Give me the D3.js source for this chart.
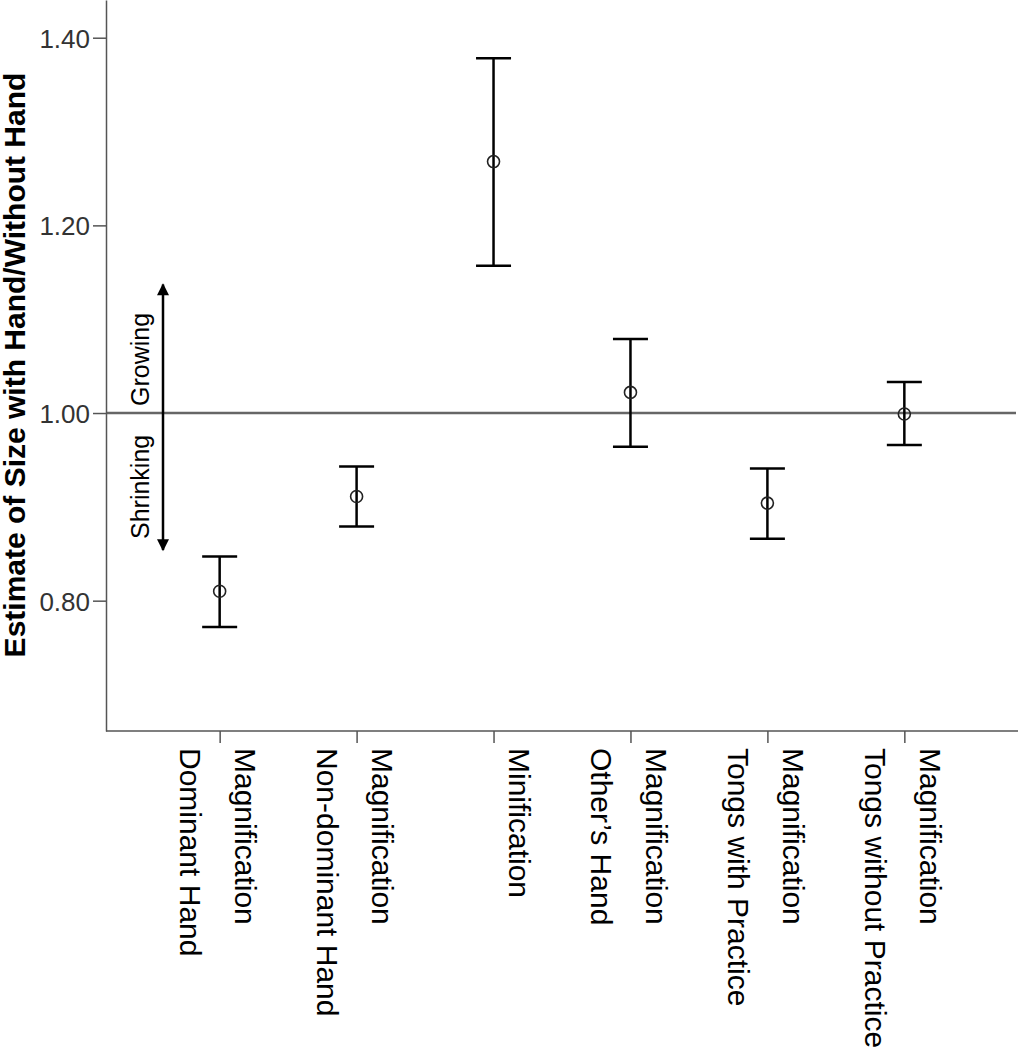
<!DOCTYPE html>
<html>
<head>
<meta charset="utf-8">
<script src="https://cdn.jsdelivr.net/npm/d3@7"></script>
<style>
  body { margin: 0; background: #fff; }
  svg { display: block; font-family: "Liberation Sans", Arial, sans-serif; }
</style>
</head>
<body>
<svg id="chart"></svg>
<script>
// conditions, two label lines each (line 1 is nearest the tick)
const labelLine1 = ['Magnification', 'Magnification', 'Minification', 'Magnification', 'Magnification', 'Magnification'];
const labelLine2 = ['Dominant Hand', 'Non-dominant Hand', '', 'Other\u2019s Hand', 'Tongs with Practice', 'Tongs without Practice'];
const means = [0.810, 0.911, 1.268, 1.022, 0.904, 0.999];
const upper = [0.847, 0.943, 1.378, 1.079, 0.941, 1.033];
const lower = [0.772, 0.879, 1.157, 0.964, 0.866, 0.966];
const yTicks = [0.80, 1.00, 1.20, 1.40];
const refValue = 1.00;
const arrowTop = 1.137, arrowBottom = 0.854;

const width = 1018, height = 1050;
const axisX = 106, axisBottom = 731;

const svg = d3.select('#chart')
    .attr('width', width)
    .attr('height', height);

const x = d3.scalePoint()
    .domain(d3.range(means.length))
    .range([axisX, 1018])
    .padding(0.83);

const y = d3.scaleLinear()
    .domain([0.6611, 1.4402])
    .range([axisBottom, 0]);

// reference line at 1.00
svg.append('line')
    .attr('x1', axisX).attr('x2', 1016)
    .attr('y1', y(refValue)).attr('y2', y(refValue))
    .attr('stroke', '#666').attr('stroke-width', 2.5);

// y axis
const yAxis = svg.append('g')
    .attr('transform', `translate(${axisX},0)`)
    .call(d3.axisLeft(y).tickValues(yTicks).tickFormat(d3.format('.2f')).tickSize(13).tickSizeOuter(0));
yAxis.select('.domain').attr('stroke', '#555').attr('stroke-width', 1.5);
yAxis.selectAll('.tick line').attr('stroke', '#555').attr('stroke-width', 1.5);
yAxis.selectAll('.tick text')
    .attr('x', -16)
    .attr('dy', '0.36em')
    .attr('fill', '#333')
    .style('font-size', '26px')
    .style('font-family', '"Liberation Sans", Arial, sans-serif');

// x axis
const xAxis = svg.append('g')
    .attr('transform', `translate(0,${axisBottom})`)
    .call(d3.axisBottom(x).tickSize(12).tickSizeOuter(0).tickFormat(''));
xAxis.select('.domain').attr('d', `M${axisX},0H${width}`).attr('stroke', '#555').attr('stroke-width', 1.5);
xAxis.selectAll('.tick line').attr('stroke', '#555').attr('stroke-width', 1.5);

// category labels, rotated to read downward
const labels = svg.append('g')
    .selectAll('text')
    .data(means.map((m, i) => i))
    .join('text')
    .attr('transform', i => `translate(${x(i)},748) rotate(90)`)
    .style('font-size', '30px')
    .attr('fill', '#000');
labels.append('tspan')
    .attr('x', 0).attr('y', -15.5)
    .text(i => labelLine1[i]);
labels.append('tspan')
    .attr('x', 0).attr('y', 39.5)
    .text(i => labelLine2[i]);

// y axis title
svg.append('text')
    .attr('transform', `translate(25,365) rotate(-90)`)
    .attr('text-anchor', 'middle')
    .style('font-size', '30px')
    .style('font-weight', 'bold')
    .text('Estimate of Size with Hand/Without Hand');

// growing / shrinking arrow
svg.append('defs').append('marker')
    .attr('id', 'tri')
    .attr('viewBox', '0 0 10 10')
    .attr('refX', 9).attr('refY', 5)
    .attr('markerUnits', 'userSpaceOnUse')
    .attr('markerWidth', 14).attr('markerHeight', 12)
    .attr('orient', 'auto-start-reverse')
    .append('path')
    .attr('d', 'M0,0L10,5L0,10Z')
    .attr('fill', '#000');

svg.append('line')
    .attr('x1', 163).attr('x2', 163)
    .attr('y1', y(arrowTop)).attr('y2', y(arrowBottom))
    .attr('stroke', '#000').attr('stroke-width', 2.5)
    .attr('marker-start', 'url(#tri)')
    .attr('marker-end', 'url(#tri)');

svg.append('text')
    .attr('transform', `translate(148.5,406) rotate(-90)`)
    .style('font-size', '25px')
    .text('Growing');
svg.append('text')
    .attr('transform', `translate(148.5,539) rotate(-90)`)
    .style('font-size', '25px')
    .text('Shrinking');

// error bars
const bars = svg.append('g')
    .selectAll('g')
    .data(means.map((m, i) => i))
    .join('g')
    .attr('stroke', '#000');

bars.append('line')
    .attr('x1', i => x(i)).attr('x2', i => x(i))
    .attr('y1', i => y(upper[i])).attr('y2', i => y(lower[i]))
    .attr('stroke-width', 2.5);
bars.append('line')
    .attr('x1', i => x(i) - 17.5).attr('x2', i => x(i) + 17.5)
    .attr('y1', i => y(upper[i])).attr('y2', i => y(upper[i]))
    .attr('stroke-width', 2.5);
bars.append('line')
    .attr('x1', i => x(i) - 17.5).attr('x2', i => x(i) + 17.5)
    .attr('y1', i => y(lower[i])).attr('y2', i => y(lower[i]))
    .attr('stroke-width', 2.5);
bars.append('circle')
    .attr('cx', i => x(i)).attr('cy', i => y(means[i]))
    .attr('r', 6)
    .attr('fill', 'none')
    .attr('stroke', '#222')
    .attr('stroke-width', 1.6);
</script>
</body>
</html>
